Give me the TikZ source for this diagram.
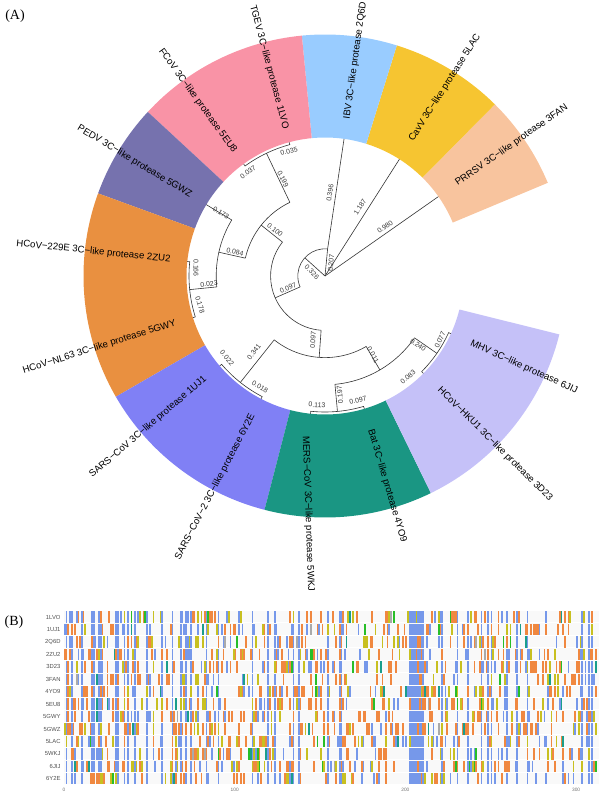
\documentclass[tikz,border=0pt]{standalone}
\usepackage{fontspec}
\setmainfont{Liberation Serif}
\setsansfont{Liberation Sans}

\definecolor{secpeach}{RGB}{248,196,158}
\definecolor{secyellow}{RGB}{246,197,49}
\definecolor{secblue}{RGB}{153,204,255}
\definecolor{secpink}{RGB}{249,147,166}
\definecolor{secpurple}{RGB}{118,114,174}
\definecolor{secorange}{RGB}{233,144,64}
\definecolor{secviolet}{RGB}{128,128,245}
\definecolor{secteal}{RGB}{26,150,131}
\definecolor{seclav}{RGB}{197,193,248}
\definecolor{msablue}{RGB}{118,152,234}
\definecolor{msaorange}{RGB}{240,136,64}
\definecolor{msaolive}{RGB}{200,192,32}
\definecolor{msagreen}{RGB}{40,190,40}
\definecolor{msateal}{RGB}{26,158,140}
\definecolor{msagray}{RGB}{170,170,170}

\tikzset{every picture/.style={line width=0.75pt}}
\tikzset{
  branch/.style={draw={rgb,255:red,51;green,51;blue,51},line width=0.45pt},
  tiplab/.style={font=\sffamily\fontsize{7.2}{8}\selectfont,inner sep=0pt},
  brlab/.style={font=\sffamily\fontsize{5.2}{6}\selectfont,inner sep=0pt,text={rgb,255:red,55;green,55;blue,55}},
  panlab/.style={font=\fontsize{10.5}{12}\selectfont,inner sep=0pt},
  rowlab/.style={font=\sffamily\fontsize{4.4}{5}\selectfont,inner sep=0pt,text={rgb,255:red,80;green,80;blue,80},anchor=east},
  axlab/.style={font=\sffamily\fontsize{3.6}{4}\selectfont,inner sep=0pt,text={rgb,255:red,110;green,110;blue,110}}
}

% radii of the coloured ring
\def\rin{138.5}
\def\rout{241.5}
\newcommand\ringsector[3]{%
  \fill[#1] (#2:\rin) arc[start angle=#2,end angle=#3,radius=\rin] -- (#3:\rout) arc[start angle=#3,end angle=#2,radius=\rout] -- cycle;}

% alignment cells
\makeatletter
\def\msabluelist{,2,5,11,17,18,21,22,31,32,36,38,42,49,58,64,69,72,75,84,91,111,120,124,135,138,155,162,163,203,204,205,206,207,208,209,210,211,222,231,237,245,249,251,260,266,272,304,308,310,}
\newcommand\msabar[3]{\fill[#3] ({64+(#1-1)*1.707},{611.4+(#2-1)*12.43}) rectangle +(1.71,11.4);}
\newcommand\msacol[1]{%
  \edef\msatest{\noexpand\in@{,#1,}{\msabluelist}}\msatest
  \ifin@\def\msapb{0.82}\else\def\msapb{0.06}\fi
  \foreach \msarow in {1,...,14}{%
    \pgfmathsetmacro\msau{rnd}%
    \pgfmathtruncatemacro\msak{\msau<\msapb ? 1 : (\msau<\msapb+0.13 ? 2 : (\msau<\msapb+0.175 ? 3 : (\msau<\msapb+0.185 ? 4 : (\msau<\msapb+0.194 ? 5 : (\msau<\msapb+0.198 ? 6 : 0)))))}%
    \ifcase\msak\or\msabar{#1}{\msarow}{msablue}\or\msabar{#1}{\msarow}{msaorange}\or\msabar{#1}{\msarow}{msaolive}\or\msabar{#1}{\msarow}{msagreen}\or\msabar{#1}{\msarow}{msateal}\or\msabar{#1}{\msarow}{msagray}\fi}}
\makeatother

\begin{document}
\begin{tikzpicture}[x=0.75pt,y=0.75pt,yscale=-1,xscale=1]
\useasboundingbox (0,0) rectangle (600,792);

% Panel labels
\node[panlab] (panA) at (15,16) {(A)};
\node[panlab] (panB) at (14,622) {(B)};

\begin{scope}[shift={(325,276)},yscale=-1]
% levels of the cladogram
\def\lA{27.2}\def\lB{54.4}\def\lC{81.6}\def\lD{108.8}\def\lE{136}\def\lT{163}
%Tree: root
\draw[branch] (0,0) -- (35:\lT);
\draw[branch] (0,0) -- (57.5:\lT);
\draw[branch] (0,0) -- (84.5:\lA) arc[start angle=84.5,end angle=203.67,radius=\lA];
\draw[branch] (84.5:\lA) -- (82:\lT);
\draw[branch] (0,0) -- (138:\lA);
\draw[branch] (203.67:\lA) -- (203.67:\lB);
\draw[branch] (141.44:\lB) arc[start angle=141.44,end angle=265.9,radius=\lB];
%Tree: alpha clade
\draw[branch] (141.44:\lB) -- (141.44:\lC);
\draw[branch] (115.5:\lC) arc[start angle=115.5,end angle=167.375,radius=\lC];
\draw[branch] (115.5:\lC) -- (115.5:\lE);
\draw[branch] (105:\lT) -- (105:\lE) arc[start angle=105,end angle=126,radius=\lE] -- (126:\lT);
\draw[branch] (167.375:\lC) -- (167.375:\lD);
\draw[branch] (149:\lT) -- (149:\lD) arc[start angle=149,end angle=185.75,radius=\lD];
\draw[branch] (185.75:\lD) -- (185.75:\lE);
\draw[branch] (174:\lT) -- (174:\lE) arc[start angle=174,end angle=197.5,radius=\lE] -- (197.5:\lT);
%Tree: beta clade
\draw[branch] (265.9:\lB) -- (265.9:\lC);
\draw[branch] (231.5:\lC) arc[start angle=231.5,end angle=300.3,radius=\lC];
\draw[branch] (231.5:\lC) -- (231.5:\lE);
\draw[branch] (220.5:\lT) -- (220.5:\lE) arc[start angle=220.5,end angle=242.5,radius=\lE] -- (242.5:\lT);
\draw[branch] (300.3:\lC) -- (300.3:\lD);
\draw[branch] (275.25:\lD) arc[start angle=275.25,end angle=325.35,radius=\lD];
\draw[branch] (275.25:\lD) -- (275.25:\lE);
\draw[branch] (264:\lT) -- (264:\lE) arc[start angle=264,end angle=286.5,radius=\lE] -- (286.5:\lT);
\draw[branch] (325.35:\lD) -- (325.35:\lE);
\draw[branch] (315.3:\lT) -- (315.3:\lE) arc[start angle=315.3,end angle=335.4,radius=\lE] -- (335.4:\lT);

%Shape: coloured ring
\ringsector{secpeach}{22.7}{45.3}
\ringsector{secyellow}{45.3}{72.7}
\ringsector{secblue}{72.7}{95.5}
\ringsector{secpink}{95.5}{137.2}
\ringsector{secpurple}{137.2}{160}
\ringsector{secorange}{160}{210}
\ringsector{secviolet}{210}{255.5}
\ringsector{secteal}{255.5}{296}
\ringsector{seclav}{296}{346}

% Tip labels
\node[tiplab,anchor=west,rotate=35] (tPRRSV) at (35:160) {PRRSV 3C−like protease 3FAN};
\node[tiplab,anchor=west,rotate=57.5] (tCavV) at (57.5:160) {CavV 3C−like protease 5LAC};
\node[tiplab,anchor=west,rotate=82] (tIBV) at (82:158) {IBV 3C−like protease 2Q6D};
\node[tiplab,anchor=east,rotate=-75] (tTGEV) at (105:152) {TGEV 3C−like protease 1LVO};
\node[tiplab,anchor=east,rotate=-54] (tFCoV) at (126:153) {FCoV 3C−like protease 5EU8};
\node[tiplab,anchor=east,rotate=-31] (tPEDV) at (149:156) {PEDV 3C−like protease 5GWZ};
\node[tiplab,anchor=east,rotate=-6] (t229E) at (174:155) {HCoV−229E 3C−like protease 2ZU2};
\node[tiplab,anchor=east,rotate=17.5] (tNL63) at (197.5:156) {HCoV−NL63 3C−like protease 5GWY};
\node[tiplab,anchor=east,rotate=40.5] (tSARS) at (220.5:157) {SARS−CoV 3C−like protease 1UJ1};
\node[tiplab,anchor=east,rotate=62.5] (tSARS2) at (242.5:156) {SARS−CoV−2 3C−like protease 6Y2E};
\node[tiplab,anchor=west,rotate=-88] (tMERS) at (263:161) {MERS−CoV 3C−like protease 5WKJ};
\node[tiplab,anchor=west,rotate=-73.5] (tBat) at (286.5:160) {Bat 3C−like protease 4YO9};
\node[tiplab,anchor=west,rotate=-44.7] (tHKU1) at (315.3:160) {HCoV−HKU1 3C−like protease 3D23};
\node[tiplab,anchor=west,rotate=-24.6] (tMHV) at (335.4:160) {MHV 3C−like protease 6JIJ};
\end{scope}

% Text Node: branch lengths
\node[brlab,rotate=15] (bTGEV) at (289,151) {0.035};
\node[brlab,rotate=36] (bFCoV) at (248,172) {0.037};
\node[brlab,rotate=-64.5] (bTF) at (283,179) {0.199};
\node[brlab,rotate=-31] (bPEDV) at (221,213) {0.173};
\node[brlab,rotate=-12.6] (bPX) at (235,252) {0.084};
\node[brlab,rotate=-38.6] (bAlpha) at (275,230) {0.100};
\node[brlab,rotate=23.7] (bAB) at (288,288) {0.097};
\node[brlab,rotate=84.5] (bRootA) at (331,263) {0.207};
\node[brlab,rotate=-45] (bRootB) at (312,272) {0.326};
\node[brlab,rotate=82] (bIBV) at (330,193) {0.396};
\node[brlab,rotate=57.5] (bCavV) at (360,207) {1.187};
\node[brlab,rotate=35] (bPRRSV) at (385,227) {0.980};
\node[brlab,rotate=-90] (b229E) at (196,268) {0.166};
\node[brlab,rotate=5.75] (bHCoV) at (209,284) {0.023};
\node[brlab,rotate=-72.5] (bNL63) at (200,305) {0.178};
\node[brlab,rotate=-50] (bSARS) at (227,358) {0.022};
\node[brlab,rotate=51.5] (bSarbe) at (254,352) {0.341};
\node[brlab,rotate=-30] (bSARS2) at (260,387) {0.018};
\node[brlab,rotate=86] (bBeta) at (313,340) {0.097};
\node[brlab,rotate=-59.7] (bMerEmb) at (373,355) {0.011};
\node[brlab,rotate=95] (bMerbe) at (340,395) {0.197};
\node[brlab,rotate=-4] (bMERS) at (317,405) {0.113};
\node[brlab,rotate=15] (bBat) at (358,400) {0.097};
\node[brlab,rotate=40] (bHKU1) at (408,377) {0.083};
\node[brlab,rotate=-34.7] (bEmbe) at (418,345) {0.240};
\node[brlab,rotate=65] (bMHV) at (440,340) {0.077};

% Panel B: alignment
\foreach \r in {1,...,14}
  \fill[gray!5] (64,{611+(\r-1)*12.43}) rectangle (598.5,{611+\r*12.43-1});
\pgfmathsetseed{2020}
\foreach \msac in {1,...,313}{\expandafter\msacol\expandafter{\msac}}
\foreach \id [count=\r] in {1LVO,1UJ1,2Q6D,2ZU2,3D23,3FAN,4YO9,5EU8,5GWY,5GWZ,5LAC,5WKJ,6JIJ,6Y2E}
  \node[rowlab] (row\id) at (61,{611+(\r-0.5)*12.43}) {\id};
\foreach \v in {0,100,200,300}
  \node[axlab] (ax\v) at ({64+\v*1.707},789.5) {\v};

\end{tikzpicture}
\end{document}
